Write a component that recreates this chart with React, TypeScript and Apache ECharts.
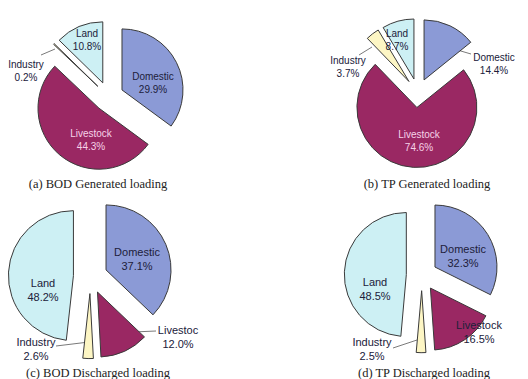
import React, { useEffect, useRef } from "react";
import * as echarts from "echarts";

// Source categories, in clockwise order from 12 o'clock
const categories = ["Domestic", "Livestock", "Industry", "Land"];

// Loading shares (%) per source
const bodGenerated = [29.9, 44.3, 0.2, 10.8];
const tpGenerated = [14.4, 74.6, 3.7, 8.7];
const bodDischarged = [37.1, 12.0, 2.6, 48.2];
const tpDischarged = [32.3, 16.5, 2.5, 48.5];

const panelTitles = [
  "(a) BOD Generated loading",
  "(b) TP Generated loading",
  "(c) BOD Discharged loading",
  "(d) TP Discharged loading",
];

const sliceColors = ["#8b9ad6", "#9a2863", "#fdf6c4", "#cdf0f4"];

type LabelPlace = {
  x: number;
  y: number;
  light?: boolean;
  line?: number[][];
  clip?: number;
};

type Panel = {
  values: number[];
  center: [number, number];
  radius: number;
  offset: number;
  fontSize: number;
  titleAt: [number, number];
  labels: LabelPlace[];
};

const panels: Panel[] = [
  {
    values: bodGenerated,
    center: [108.6, 96.7],
    radius: 61,
    offset: 15,
    fontSize: 10,
    titleAt: [98, 184],
    labels: [
      { x: 153, y: 83 },
      { x: 91, y: 140, light: true },
      { x: 26, y: 71, line: [[55, 49], [41, 55]] },
      { x: 87, y: 40 },
    ],
  },
  {
    values: tpGenerated,
    center: [417.8, 93],
    radius: 60,
    offset: 14.5,
    fontSize: 10,
    titleAt: [427, 184],
    labels: [
      { x: 494, y: 64, line: [[454, 49], [471, 54]] },
      { x: 419, y: 141, light: true },
      { x: 348, y: 67, line: [[372, 47], [359, 55]] },
      { x: 397, y: 40 },
    ],
  },
  {
    values: bodDischarged,
    center: [90.4, 276.6],
    radius: 65,
    offset: 17,
    fontSize: 11,
    titleAt: [98, 373],
    labels: [
      { x: 137, y: 259 },
      { x: 178, y: 337, line: [[133, 332], [156, 331]], clip: 46 },
      { x: 36, y: 349, line: [[89, 342], [56, 346]] },
      { x: 43, y: 290 },
    ],
  },
  {
    values: tpDischarged,
    center: [421.8, 275.2],
    radius: 62,
    offset: 15.5,
    fontSize: 11,
    titleAt: [424, 373],
    labels: [
      { x: 463, y: 256 },
      { x: 479, y: 332 },
      { x: 372, y: 349, line: [[417, 340], [393, 348]] },
      { x: 375, y: 289 },
    ],
  },
];

function buildOption(): echarts.EChartsOption {
  const series: any[] = panels.map((p, si) => ({
    type: "pie",
    name: panelTitles[si],
    center: p.center,
    radius: [0, p.radius],
    startAngle: 90,
    clockwise: true,
    selectedMode: "multiple",
    selectedOffset: p.offset,
    avoidLabelOverlap: false,
    silent: true,
    emphasis: { disabled: true },
    label: { show: false },
    labelLine: { show: false },
    itemStyle: { borderColor: "#3a3a3a", borderWidth: 1 },
    select: { itemStyle: { borderColor: "#3a3a3a", borderWidth: 1 } },
    data: categories.map((name, i) => ({
      name,
      value: p.values[i],
      selected: true,
      itemStyle: { color: sliceColors[i] },
      select: { itemStyle: { color: sliceColors[i] } },
    })),
  }));

  const graphics: any[] = [];

  panels.forEach((p, pi) => {
    // panel caption
    graphics.push({
      type: "text",
      x: p.titleAt[0],
      y: p.titleAt[1],
      silent: true,
      style: {
        text: panelTitles[pi],
        fill: "#222222",
        font: "12.5px 'Liberation Serif', 'Times New Roman', serif",
        align: "center",
        verticalAlign: "middle",
      },
    });

    // slice labels: category name and share
    categories.forEach((name, i) => {
      const place = p.labels[i];
      if (place.line) {
        graphics.push({
          type: "polyline",
          silent: true,
          shape: { points: place.line },
          style: { stroke: "#7a7a7a", lineWidth: 1, fill: null },
        });
      }
      graphics.push({
        type: "text",
        x: place.x,
        y: place.y,
        silent: true,
        z: 10,
        style: {
          text: `${name}\n${p.values[i].toFixed(1)}%`,
          fill: place.light ? "#f6d3e8" : "#20203a",
          font: `${p.fontSize}px 'Liberation Sans', Arial, sans-serif`,
          lineHeight: p.fontSize + 2.5,
          align: "center",
          verticalAlign: "middle",
          ...(place.clip
            ? { width: place.clip, overflow: "truncate", ellipsis: "" }
            : {}),
        },
      });
    });
  });

  return {
    animation: false,
    backgroundColor: "#ffffff",
    series,
    graphic: graphics,
  };
}

export default function App() {
  const ref = useRef<HTMLDivElement>(null);

  useEffect(() => {
    if (!ref.current) return;
    const chart = echarts.init(ref.current, undefined, { renderer: "svg" });
    chart.setOption(buildOption());
    return () => chart.dispose();
  }, []);

  return (
    <div
      ref={ref}
      style={{ position: "absolute", left: 0, top: 0, width: 528, height: 379 }}
    />
  );
}
